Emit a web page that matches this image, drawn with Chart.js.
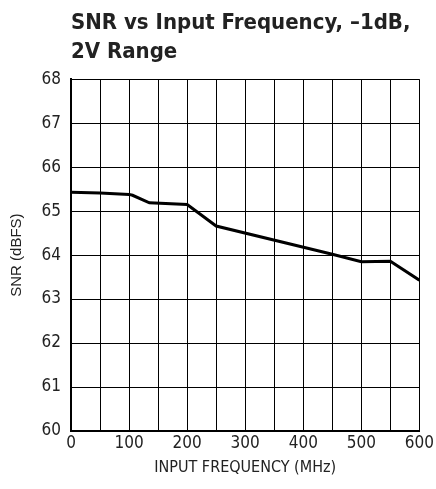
<!DOCTYPE html>
<html>
<head>
	<title>SNR vs Input Frequency</title>
	<script src="https://cdn.jsdelivr.net/npm/chart.js@4.4.0/dist/chart.umd.min.js"></script>
	<style>
		body { margin: 0; background: #fff; }
		#wrap { width: 436px; height: 489px; }
	</style>
</head>
<body>
	<div id="wrap">
		<canvas id="snr-chart" width="436" height="489"></canvas>
	</div>
	<script>
		// values
		var freqMHz = [0, 50, 100, 106, 135, 200, 250, 450, 500, 550, 600];
		var snrDbfs = [65.43, 65.41, 65.38, 65.36, 65.19, 65.15, 64.66, 64.02, 63.85, 63.86, 63.43];
		var titleLines = ['SNR vs Input Frequency, \u20131dB,', '2V Range'];

		var narrow = "'Liberation Sans Narrow', 'DejaVu Sans Condensed', Arial, sans-serif";

		var points = freqMHz.map(function (f, i) { return { x: f, y: snrDbfs[i] }; });

		var ctx = document.getElementById('snr-chart').getContext('2d');
		var chart = new Chart(ctx, {
			type: 'line',
			data: {
				datasets: [{
					data: points,
					borderColor: '#000',
					borderWidth: 3,
					pointRadius: 0,
					tension: 0,
					fill: false
				}]
			},
			options: {
				responsive: false,
				animation: false,
				layout: { padding: { left: 0, right: 0, top: 0, bottom: 0 } },
				plugins: {
					legend: { display: false },
					tooltip: { enabled: false },
					title: {
						display: true,
						text: titleLines,
						align: 'start',
						fullSize: false,
						color: '#222',
						font: { family: narrow, size: 22, weight: 'bold', lineHeight: 1.3 },
						padding: { top: 9, bottom: 13 }
					}
				},
				scales: {
					x: {
						type: 'linear',
						min: 0,
						max: 600,
						afterFit: function (s) { s.height = 58; },
						grid: { color: '#000', lineWidth: 1, drawTicks: false },
						border: { color: '#000', width: 2 },
						ticks: {
							stepSize: 50,
							autoSkip: false,
							maxRotation: 0,
							minRotation: 0,
							padding: 2,
							color: '#222',
							font: { family: narrow, size: 17 },
							callback: function (v) { return v % 100 === 0 ? v : ''; }
						},
						title: {
							display: true,
							text: 'INPUT FREQUENCY (MHz)',
							color: '#222',
							font: { family: narrow, size: 16 },
							padding: { top: 0, bottom: 12 }
						}
					},
					y: {
						min: 60,
						max: 68,
						afterFit: function (s) { s.width = 71; },
						grid: { color: '#000', lineWidth: 1, drawTicks: false },
						border: { color: '#000', width: 2 },
						ticks: {
							stepSize: 1,
							padding: 10,
							color: '#222',
							font: { family: narrow, size: 17 }
						},
						title: {
							display: true,
							text: 'SNR (dBFS)',
							color: '#222',
							font: { family: "Arial, 'Liberation Sans', sans-serif", size: 15 },
							padding: { top: 8, bottom: 0 }
						}
					}
				}
			}
		});
	</script>
</body>
</html>
